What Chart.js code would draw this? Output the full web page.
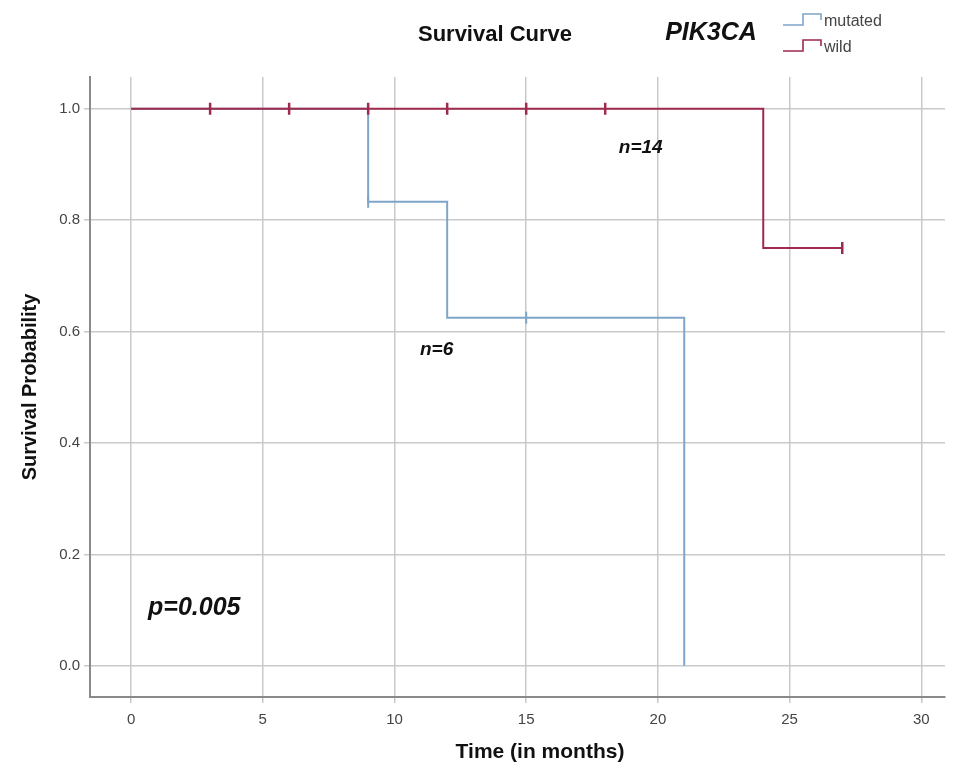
<!DOCTYPE html>
<html>
<head>
<meta charset="utf-8">
<title>Survival Curve</title>
<script src="https://cdn.jsdelivr.net/npm/chart.js@4.4.1/dist/chart.umd.min.js"></script>
<style>
  html, body { margin: 0; padding: 0; background: #fff; }
</style>
</head>
<body>
<canvas id="myChart" width="966" height="768"></canvas>
<script>
'use strict'
// values (Kaplan-Meier steps)
let mutatedTimes = [0, 9, 12, 21];
let mutatedSurv = [1, 0.833, 0.625, 0];
let mutatedCensorTimes = [9, 15];
let mutatedCensorSurv = [0.833, 0.625];

let wildTimes = [0, 24, 27];
let wildSurv = [1, 0.75, 0.75];
let wildCensorTimes = [3, 6, 9, 12, 15, 18, 27];
let wildCensorSurv = [1, 1, 1, 1, 1, 1, 0.75];

let xTicks = [0, 5, 10, 15, 20, 25, 30];
let yTicks = [0, 0.2, 0.4, 0.6, 0.8, 1.0];
let groupNames = ['mutated', 'wild'];

// styles
const blue = '#7fa5c9';
const red = '#9f2a4e';
const gridColor = '#c9c9c9';
const axisColor = '#8a8a8a';
const fontFam = '"Liberation Sans", Arial, sans-serif';

function toPoints(xs, ys) {
    return xs.map((x, i) => ({ x: x, y: ys[i] }));
}

// text put inside the plot, placed in data units
let notes = [
    { text: 'n=14', x: 19.35, y: 0.93, size: 19 },
    { text: 'n=6', x: 11.6, y: 0.567, size: 19 },
    { text: 'p=0.005', x: 2.4, y: 0.104, size: 25 }
];

// draws the header, the little step legend and the notes
const extraText = {
    id: 'extraText',
    afterDraw(chart) {
        let ctx = chart.ctx;
        let xs = chart.scales.x;
        let ys = chart.scales.y;
        ctx.save();
        ctx.fillStyle = '#111';
        ctx.textBaseline = 'middle';
        ctx.textAlign = 'center';
        ctx.font = 'bold 22px ' + fontFam;
        ctx.fillText('Survival Curve', 495, 35);
        ctx.font = 'italic bold 25px ' + fontFam;
        ctx.fillText('PIK3CA', 711, 33);
        ctx.font = 'bold 21px ' + fontFam;
        ctx.fillText('Time (in months)', 540, 752);

        // legend with step icons
        let legendColors = [blue, red];
        for (let i = 0; i < groupNames.length; i++) {
            let top = 12 + i * 26;
            ctx.strokeStyle = legendColors[i];
            ctx.lineWidth = 1.6;
            ctx.beginPath();
            ctx.moveTo(783, top + 13);
            ctx.lineTo(803, top + 13);
            ctx.lineTo(803, top + 2);
            ctx.lineTo(821, top + 2);
            ctx.lineTo(821, top + 8);
            ctx.stroke();
            ctx.fillStyle = '#444';
            ctx.textAlign = 'left';
            ctx.font = '16px ' + fontFam;
            ctx.fillText(groupNames[i], 824, top + 10);
        }

        ctx.fillStyle = '#111';
        ctx.textAlign = 'center';
        for (let n of notes) {
            ctx.font = 'italic bold ' + n.size + 'px ' + fontFam;
            ctx.fillText(n.text, xs.getPixelForValue(n.x), ys.getPixelForValue(n.y));
        }
        ctx.restore();
    }
};

let ctx = document.getElementById('myChart').getContext('2d');
let myChart = new Chart(ctx, {
    type: 'line',
    data: {
        datasets: [{
                label: 'wild',
                data: toPoints(wildTimes, wildSurv),
                stepped: true,
                borderColor: red,
                borderWidth: 2,
                pointRadius: 0,
                fill: false,
                order: 0
            },
            {
                label: 'wild censored',
                data: toPoints(wildCensorTimes, wildCensorSurv),
                showLine: false,
                pointStyle: 'line',
                pointRotation: 90,
                pointRadius: 6,
                pointBorderWidth: 2.5,
                pointBorderColor: red,
                borderColor: red,
                order: 0
            },
            {
                label: 'mutated',
                data: toPoints(mutatedTimes, mutatedSurv),
                stepped: true,
                borderColor: blue,
                borderWidth: 2,
                pointRadius: 0,
                fill: false,
                order: 1
            },
            {
                label: 'mutated censored',
                data: toPoints(mutatedCensorTimes, mutatedCensorSurv),
                showLine: false,
                pointStyle: 'line',
                pointRotation: 90,
                pointRadius: 6,
                pointBorderWidth: 2,
                pointBorderColor: blue,
                borderColor: blue,
                order: 1
            }
        ]
    },
    options: {
        responsive: false,
        animation: false,
        devicePixelRatio: 1,
        layout: { padding: { top: 77, right: 21, left: 0, bottom: 0 } },
        plugins: {
            legend: { display: false },
            tooltip: { enabled: false }
        },
        scales: {
            x: {
                type: 'linear',
                min: -1.56,
                max: 30.9,
                afterBuildTicks: (scale) => { scale.ticks = xTicks.map(v => ({ value: v })); },
                afterFit: (scale) => { scale.height = 71; },
                ticks: {
                    color: '#444',
                    font: { family: fontFam, size: 15 },
                    padding: 8,
                    maxRotation: 0
                },
                grid: { color: gridColor, lineWidth: 1.5, tickLength: 6 },
                border: { color: axisColor, width: 2 }
            },
            y: {
                min: -0.056,
                max: 1.057,
                afterBuildTicks: (scale) => { scale.ticks = yTicks.map(v => ({ value: v })); },
                afterFit: (scale) => { scale.width = 90; },
                ticks: {
                    color: '#444',
                    font: { family: fontFam, size: 15 },
                    padding: 4,
                    callback: (v) => v.toFixed(1)
                },
                grid: { color: gridColor, lineWidth: 1.5, tickLength: 6 },
                border: { color: axisColor, width: 2 },
                title: {
                    display: true,
                    text: 'Survival Probability',
                    color: '#111',
                    font: { family: fontFam, size: 20, weight: 'bold' },
                    padding: { top: 18, bottom: 0 }
                }
            }
        }
    },
    plugins: [extraText]
});
</script>
</body>
</html>
